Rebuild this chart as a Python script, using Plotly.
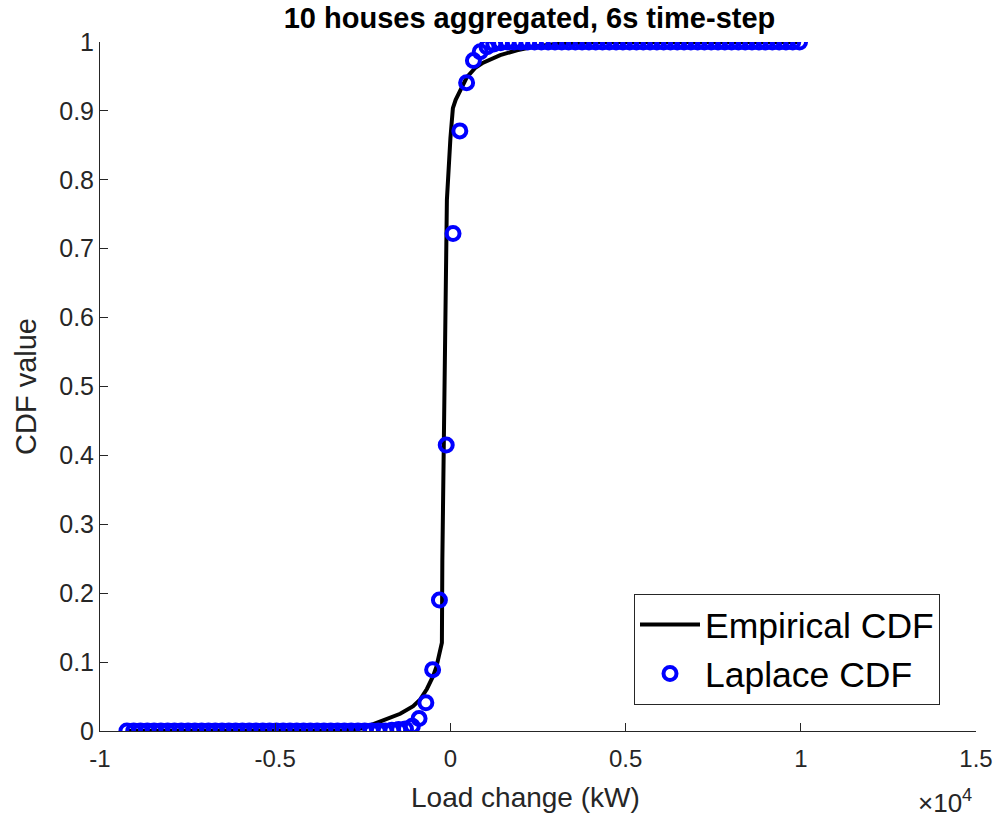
import plotly.graph_objects as go

# Empirical CDF (kW, cdf)
emp_x = [-9232, -5000, -3000, -2500, -2195, -1800, -1433, -1062, -860, -671, -491, -400, -330, -270,
         -243, -230, -177, -100, 0, 71, 150, 231, 350, 471, 700, 936, 1421, 1898, 2363, 3134, 4275, 9964]
emp_y = [0.0, 0.0, 0.001, 0.004, 0.010, 0.017, 0.025, 0.036, 0.046, 0.061, 0.080, 0.093, 0.107, 0.118,
         0.128, 0.248, 0.509, 0.771, 0.860, 0.904, 0.916, 0.925, 0.938, 0.949, 0.962, 0.970, 0.981, 0.988,
         0.993, 0.998, 1.0, 1.0]

# Laplace CDF evaluated on grid (kW, cdf)
lap_x = [-9232, -9038, -8844, -8650, -8456, -8262, -8069, -7875, -7681, -7487,
         -7293, -7099, -6905, -6711, -6517, -6324, -6130, -5936, -5742, -5548,
         -5354, -5160, -4966, -4772, -4578, -4385, -4191, -3997, -3803, -3609,
         -3415, -3221, -3027, -2833, -2639, -2446, -2252, -2058, -1864, -1670,
         -1476, -1282, -1088, -894, -700, -507, -313, -119, 75, 269,
         463, 657, 851, 1045, 1239, 1432, 1626, 1820, 2014, 2208,
         2402, 2596, 2790, 2984, 3178, 3371, 3565, 3759, 3953, 4147,
         4341, 4535, 4729, 4923, 5117, 5310, 5504, 5698, 5892, 6086,
         6280, 6474, 6668, 6862, 7056, 7249, 7443, 7637, 7831, 8025,
         8219, 8413, 8607, 8801, 8995, 9188, 9382, 9576, 9770, 9964]
lap_y = [0.0, 0.0, 0.0, 0.0, 0.0, 0.0, 0.0, 0.0, 0.0, 0.0,
         0.0, 0.0, 0.0, 0.0, 0.0, 0.0, 0.0, 0.0, 0.0, 0.0,
         0.0, 0.0, 0.0, 0.0, 0.0, 0.0, 0.0, 0.0, 0.0, 0.0,
         0.0, 0.0, 0.0, 0.0, 0.0, 0.0, 0.0, 0.0, 0.0, 0.001,
         0.002, 0.003, 0.007, 0.018, 0.041, 0.089, 0.190, 0.415, 0.722, 0.871,
         0.941, 0.973, 0.986, 0.993, 0.997, 0.999, 1.0, 1.0, 1.0, 1.0,
         1.0, 1.0, 1.0, 1.0, 1.0, 1.0, 1.0, 1.0, 1.0, 1.0,
         1.0, 1.0, 1.0, 1.0, 1.0, 1.0, 1.0, 1.0, 1.0, 1.0,
         1.0, 1.0, 1.0, 1.0, 1.0, 1.0, 1.0, 1.0, 1.0, 1.0,
         1.0, 1.0, 1.0, 1.0, 1.0, 1.0, 1.0, 1.0, 1.0, 1.0]

x_tickvals = [-10000, -5000, 0, 5000, 10000, 15000]
x_ticktext = ["-1", "-0.5", "0", "0.5", "1", "1.5"]
y_tickvals = [0, 0.1, 0.2, 0.3, 0.4, 0.5, 0.6, 0.7, 0.8, 0.9, 1]
y_ticktext = ["0", "0.1", "0.2", "0.3", "0.4", "0.5", "0.6", "0.7", "0.8", "0.9", "1"]

FONT = "Liberation Sans, Arial, Helvetica, sans-serif"
AX = "#262626"

fig = go.Figure()
fig.add_trace(go.Scatter(x=emp_x, y=emp_y, mode="lines", name="Empirical CDF",
                         line=dict(color="black", width=4)))
fig.add_trace(go.Scatter(x=lap_x, y=lap_y, mode="markers", name="Laplace CDF",
                         marker=dict(symbol="circle-open", size=13, color="#0000FF",
                                     line=dict(width=4, color="#0000FF"))))

fig.update_layout(
    template="none",
    width=995, height=818,
    margin=dict(l=100, r=19, t=42, b=87, autoexpand=False),
    paper_bgcolor="white", plot_bgcolor="white",
    font=dict(family=FONT, color=AX, size=24),
    title=dict(text="<b>10 houses aggregated, 6s time-step</b>", x=529.5/995, xref="container",
               xanchor="center", y=1 - 18/818, yref="container", yanchor="middle",
               font=dict(size=29, color="black", family=FONT)),
    showlegend=True,
    legend=dict(x=(940 - 100) / 876, y=0.038, xanchor="right", yanchor="bottom",
                bgcolor="white", bordercolor=AX, borderwidth=1,
                font=dict(size=35.5, color="black", family=FONT), itemwidth=60,
                tracegroupgap=0),
)
fig.update_xaxes(range=[-10000, 15000], tickvals=x_tickvals, ticktext=x_ticktext,
                 automargin=False,
                 showgrid=False, zeroline=False, showline=True, linecolor=AX, linewidth=1,
                 ticks="inside", ticklen=8, tickcolor=AX, tickfont=dict(size=24, color=AX),
                 ticklabelstandoff=6)
fig.update_yaxes(range=[0, 1], tickvals=y_tickvals, ticktext=y_ticktext,
                 automargin=False,
                 showgrid=False, zeroline=False, showline=True, linecolor=AX, linewidth=1,
                 ticks="inside", ticklen=8, tickcolor=AX, tickfont=dict(size=25, color=AX),
                 title=dict(text="CDF value", font=dict(size=29, color=AX), standoff=14))
fig.add_annotation(text="Load change (kW)", xref="paper", yref="paper",
                   x=(525 - 100) / 876, y=(731 - 797) / 689,
                   xanchor="center", yanchor="middle", showarrow=False,
                   font=dict(size=28, color=AX, family=FONT))
fig.add_annotation(text="×10<sup>4</sup>", xref="paper", yref="paper", x=0.998, y=(731 - 801) / 689,
                   xanchor="right", yanchor="middle", showarrow=False,
                   font=dict(size=26, color=AX, family=FONT))

fig.write_html("out.html")
